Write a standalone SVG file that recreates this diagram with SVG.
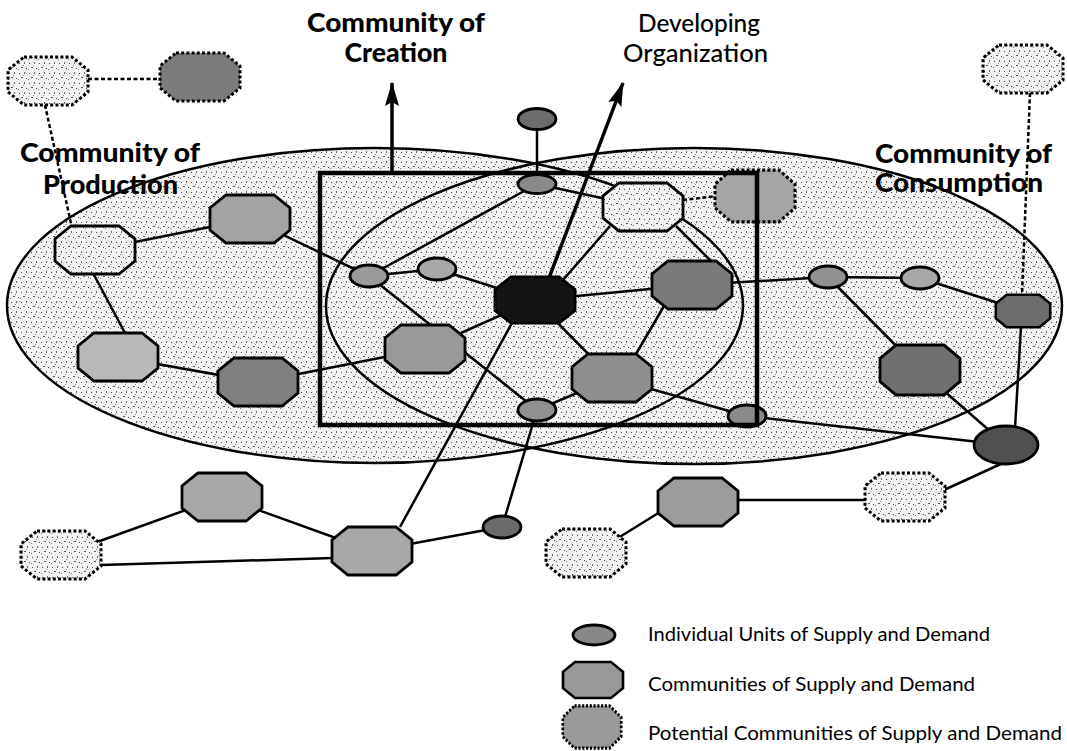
<svg xmlns="http://www.w3.org/2000/svg" xmlns:xlink="http://www.w3.org/1999/xlink" width="1067" height="751" viewBox="0 0 1067 751">
  <defs>
    <!-- light speckled screen used for the community areas and the pale nodes -->
    <pattern id="speck" width="10" height="10" patternUnits="userSpaceOnUse">
      <rect width="10" height="10" fill="#f3f3f3"/>
      <rect x="1" y="2" width="1" height="1" fill="#444"/>
      <rect x="6" y="1" width="1" height="2" fill="#666"/>
      <rect x="3" y="6" width="2" height="1" fill="#555"/>
      <rect x="8" y="7" width="1" height="1" fill="#444"/>
      <rect x="5" y="4" width="1" height="1" fill="#888"/>
      <rect x="0" y="8" width="1" height="1" fill="#777"/>
    </pattern>
    <!-- octagon used for every community node, centred on 0,0 (80 x 48) -->
    <polygon id="oct" points="-24,-24 24,-24 40,-11 40,11 24,24 -24,24 -40,11 -40,-11"/>
    <marker id="head" viewBox="0 0 24 14" refX="23" refY="7" markerWidth="24" markerHeight="14" markerUnits="userSpaceOnUse" orient="auto">
      <path d="M0,0 L24,7 L0,14 L4,7 z" fill="#000"/>
    </marker>
  </defs>
  <style>
    .title{font-family:"Lato","Liberation Sans",sans-serif;font-weight:900;font-size:26px;fill:#000}
    .sub{font-family:"Lato","Liberation Sans",sans-serif;font-weight:500;font-size:24px;fill:#000}
    .leg{font-family:"Lato","Liberation Sans",sans-serif;font-weight:400;font-size:20px;fill:#000}
    .area{stroke:none;fill:url(#speck)}
    .edge{fill:none;stroke:#000;stroke-width:2.5}
    .c{fill:none;stroke:#000;stroke-width:2.5}
    .cd{fill:none;stroke:#000;stroke-width:2.5;stroke-dasharray:4 2.5}
    .arr{fill:none;stroke:#000;stroke-width:3.5}
    .n{stroke:#000;stroke-width:2.8}
    .p{stroke:#000;stroke-width:3;stroke-dasharray:3 2.2}
    .pale{fill:url(#speck)}
  </style>

  <rect width="1067" height="751" fill="#fff"/>

  <!-- Community of Production / Community of Consumption -->
  <g id="communities">
    <ellipse class="area" cx="375" cy="305.5" rx="368" ry="157.5"/>
    <ellipse class="area" cx="694" cy="306" rx="368" ry="158"/>
    <ellipse class="edge" cx="375" cy="305.5" rx="368" ry="157.5"/>
    <ellipse class="edge" cx="694" cy="306" rx="368" ry="158"/>
  </g>

  <!-- titles -->
  <g id="labels">
    <text class="title" x="396" y="32" text-anchor="middle" textLength="178" lengthAdjust="spacingAndGlyphs">Community of</text>
    <text class="title" x="396" y="62" text-anchor="middle" textLength="103" lengthAdjust="spacingAndGlyphs">Creation</text>
    <text class="sub" x="699" y="32" text-anchor="middle" textLength="122" lengthAdjust="spacingAndGlyphs">Developing</text>
    <text class="sub" x="695.5" y="62" text-anchor="middle" textLength="145" lengthAdjust="spacingAndGlyphs">Organization</text>
    <text class="title" x="110" y="162" text-anchor="middle" textLength="180" lengthAdjust="spacingAndGlyphs">Community of</text>
    <text class="title" x="110.5" y="194" text-anchor="middle" textLength="135" lengthAdjust="spacingAndGlyphs">Production</text>
    <text class="title" x="963.5" y="163" text-anchor="middle" textLength="177" lengthAdjust="spacingAndGlyphs">Community of</text>
    <text class="title" x="959" y="192" text-anchor="middle" textLength="168" lengthAdjust="spacingAndGlyphs">Consumption</text>
  </g>

  <!-- links between units and communities -->
  <g id="connectors">
    <path class="cd" d="M88,79 L160,79"/>
    <path class="cd" d="M45,105 L72,228"/>
    <path class="c" d="M95,250 L250,219"/>
    <path class="c" d="M93,273 L125,333"/>
    <path class="c" d="M118,357 L258,382"/>
    <path class="c" d="M258,382 L425,349"/>
    <path class="c" d="M250,219 L369,276"/>
    <path class="c" d="M369,276 L437,269"/>
    <path class="c" d="M369,276 L537,184"/>
    <path class="c" d="M369,276 L537,410"/>
    <path class="c" d="M437,269 L535,300"/>
    <path class="c" d="M425,349 L535,300"/>
    <path class="c" d="M537,119 L537,184"/>
    <path class="c" d="M537,184 L643,207"/>
    <path class="c" d="M610,226 L563,280"/>
    <path class="c" d="M676,226 L712,262"/>
    <path class="cd" d="M683,200 L716,196"/>
    <path class="c" d="M535,300 L692,285"/>
    <path class="c" d="M535,300 L612,378"/>
    <path class="c" d="M664,306 L636,354"/>
    <path class="c" d="M612,378 L537,410"/>
    <path class="c" d="M612,378 L747,416"/>
    <path class="c" d="M692,285 L828,277"/>
    <path class="c" d="M828,277 L920,278"/>
    <path class="c" d="M920,278 L1023,311"/>
    <path class="c" d="M828,277 L920,370"/>
    <path class="c" d="M920,370 L1006,445"/>
    <path class="c" d="M747,416 L1006,445"/>
    <path class="c" d="M1021,327 L1015,428"/>
    <path class="cd" d="M1030,93 L1022,295"/>
    <path class="c" d="M512,323 L400,527"/>
    <path class="c" d="M537,410 L502,527"/>
    <path class="c" d="M372,551 L502,527"/>
    <path class="c" d="M372,551 L222,497"/>
    <path class="c" d="M222,497 L61,555"/>
    <path class="c" d="M101,565 L333,558"/>
    <path class="c" d="M618,538 L660,512"/>
    <path class="c" d="M738,500 L865,500"/>
    <path class="c" d="M944,490 L1003,463"/>
    <path class="arr" d="M392,171 L392,83" marker-end="url(#head)"/>
    <path class="arr" d="M549,278 L623,83" marker-end="url(#head)"/>
  </g>

  <!-- communities of supply and demand -->
  <g id="n-w0"><use xlink:href="#oct" class="n pale" transform="translate(95,250)"/></g>
  <g id="n-p1"><use xlink:href="#oct" class="n" fill="#a3a3a3" transform="translate(250,219)"/></g>
  <g id="n-l1"><use xlink:href="#oct" class="n" fill="#b8b8b8" transform="translate(118,357)"/></g>
  <g id="n-d1"><use xlink:href="#oct" class="n" fill="#808080" transform="translate(258,382)"/></g>
  <g id="n-c"><use xlink:href="#oct" class="n" fill="#9a9a9a" transform="translate(425,349)"/></g>
  <g id="n-org"><use xlink:href="#oct" class="n" fill="#141414" transform="translate(535,300) scale(1,0.96)"/></g>
  <g id="n-i"><use xlink:href="#oct" class="n pale" transform="translate(643,207)"/></g>
  <g id="n-d"><use xlink:href="#oct" class="n" fill="#7a7a7a" transform="translate(692,285)"/></g>
  <g id="n-e"><use xlink:href="#oct" class="n" fill="#8e8e8e" transform="translate(612,378)"/></g>
  <g id="n-n"><use xlink:href="#oct" class="n" fill="#707070" transform="translate(920,370) scale(1,1.04)"/></g>
  <g id="n-m"><use xlink:href="#oct" class="n" fill="#6c6c6c" transform="translate(1023,311) scale(0.68)" style="stroke-width:3.8"/></g>
  <g id="n-s"><use xlink:href="#oct" class="n" fill="#a8a8a8" transform="translate(222,497)"/></g>
  <g id="n-t"><use xlink:href="#oct" class="n" fill="#a8a8a8" transform="translate(372,551)"/></g>
  <g id="n-v"><use xlink:href="#oct" class="n" fill="#9c9c9c" transform="translate(698,502)"/></g>

  <!-- potential communities -->
  <g id="p-tl"><use xlink:href="#oct" class="p pale" transform="translate(48,81)"/></g>
  <g id="p-td"><use xlink:href="#oct" class="p" fill="#7c7c7c" transform="translate(200,77)"/></g>
  <g id="p-j"><use xlink:href="#oct" class="p" fill="#a5a5a5" transform="translate(755,196) scale(1,1.08)"/></g>
  <g id="p-q"><use xlink:href="#oct" class="p pale" transform="translate(1023,69)"/></g>
  <g id="p-r"><use xlink:href="#oct" class="p pale" transform="translate(61,555)"/></g>
  <g id="p-w"><use xlink:href="#oct" class="p pale" transform="translate(586,553)"/></g>
  <g id="p-x"><use xlink:href="#oct" class="p pale" transform="translate(905,497)"/></g>

  <!-- individual units of supply and demand -->
  <g id="u-a"><ellipse class="n" cx="369" cy="276" rx="19" ry="11" fill="#9a9a9a"/></g>
  <g id="u-b"><ellipse class="n" cx="437" cy="269" rx="19" ry="11" fill="#a8a8a8"/></g>
  <g id="u-h"><ellipse class="n" cx="537" cy="184" rx="19" ry="9.5" fill="#8a8a8a"/></g>
  <g id="u-g"><ellipse class="n" cx="537" cy="119" rx="19" ry="10.5" fill="#6c6c6c"/></g>
  <g id="u-f"><ellipse class="n" cx="537" cy="410" rx="19" ry="11" fill="#909090"/></g>
  <g id="u-k"><ellipse class="n" cx="828" cy="277" rx="19" ry="11" fill="#909090"/></g>
  <g id="u-l"><ellipse class="n" cx="920" cy="278" rx="19" ry="11" fill="#a8a8a8"/></g>
  <g id="u-o"><ellipse class="n" cx="747" cy="416" rx="19" ry="11" fill="#8a8a8a"/></g>
  <g id="u-p"><ellipse class="n" cx="1006" cy="445" rx="32" ry="19" fill="#505050"/></g>
  <g id="u-u"><ellipse class="n" cx="502" cy="527" rx="19" ry="11" fill="#6a6a6a"/></g>

  <!-- Community of Creation frame -->
  <g id="creation-frame">
    <rect x="320" y="173" width="437" height="252" fill="none" stroke="#000" stroke-width="4.5"/>
  </g>

  <!-- key -->
  <g id="legend">
    <ellipse class="n" cx="594" cy="635" rx="21" ry="10" fill="#888"/>
    <use xlink:href="#oct" class="n" fill="#999" transform="translate(593,680) scale(0.75)" style="stroke-width:3.5"/>
    <use xlink:href="#oct" class="p" fill="#999" transform="translate(592,727) scale(0.73,0.88)" style="stroke-width:3.6"/>
    <text class="leg" x="648" y="641" textLength="342" lengthAdjust="spacingAndGlyphs">Individual Units of Supply and Demand</text>
    <text class="leg" x="648" y="691" textLength="327" lengthAdjust="spacingAndGlyphs">Communities of Supply and Demand</text>
    <text class="leg" x="648" y="740" textLength="414" lengthAdjust="spacingAndGlyphs">Potential Communities of Supply and Demand</text>
  </g>
</svg>
